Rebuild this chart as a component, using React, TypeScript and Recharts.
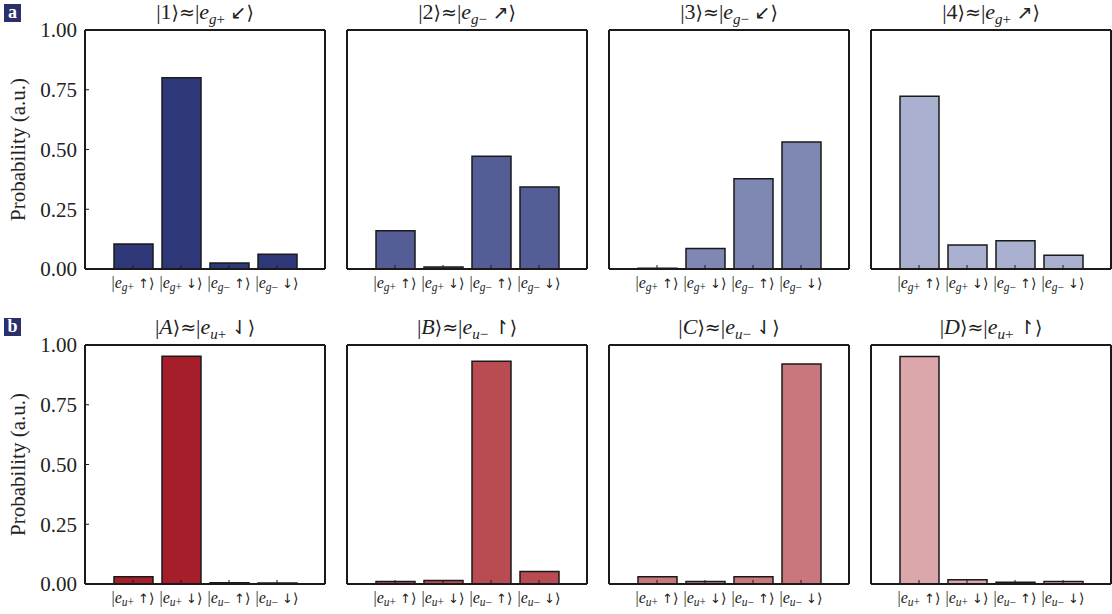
import { Bar, BarChart, XAxis, YAxis } from 'recharts'

const topSubs = ['g+', 'g+', 'g−', 'g−']
const bottomSubs = ['u+', 'u+', 'u−', 'u−']
const spins = ['↑', '↓', '↑', '↓']

const topKets = ['1', '2', '3', '4']
const topTitleSubs = ['g+', 'g−', 'g−', 'g+']
const topArrows = ['↙', '↗', '↙', '↗']
const bottomKets = ['A', 'B', 'C', 'D']
const bottomTitleSubs = ['u+', 'u−', 'u−', 'u+']
const bottomArrows = ['⇃', '↾', '⇃', '↾']

const state1 = [0.105, 0.8, 0.025, 0.062]
const state2 = [0.16, 0.008, 0.472, 0.343]
const state3 = [0.003, 0.086, 0.378, 0.531]
const state4 = [0.723, 0.1, 0.118, 0.058]
const stateA = [0.03, 0.953, 0.005, 0.004]
const stateB = [0.01, 0.015, 0.932, 0.052]
const stateC = [0.03, 0.01, 0.03, 0.92]
const stateD = [0.952, 0.018, 0.007, 0.01]

const topColors = ['#2e3879', '#555d96', '#7f87b3', '#aab0cf']
const bottomColors = ['#a51e2a', '#b94c53', '#c9767c', '#dba7aa']

const yTicks = [0, 0.25, 0.5, 0.75, 1]

const FONT = '"Liberation Serif", "DejaVu Serif", serif'
const SYM = '"DejaVu Sans", "DejaVu Serif", sans-serif'
const INK = '#1a1a1a'
const colLefts = [85, 347, 609, 871]
const rowTops = [30, 345]
const plotW = 240
const plotH = 239
const axisW = 85

function KetTick(props: any) {
  const { x, y, payload, subs } = props
  const i = payload.index
  const sub: string = subs[i]
  return (
    <text x={x} y={y} textAnchor="middle" fontFamily={FONT} fontSize={16} fill="#222">
      <tspan dy={15}>|</tspan>
      <tspan fontStyle="italic">e</tspan>
      <tspan dy={3} fontSize={11.5}>
        <tspan fontStyle="italic">{sub[0]}</tspan>
        {sub.slice(1)}
      </tspan>
      <tspan dy={-3}> </tspan>
      <tspan fontFamily={SYM} fontSize={13}>{spins[i]}</tspan>
      <tspan fontFamily={SYM} fontSize={14}>⟩</tspan>
    </text>
  )
}

function Panel({ values, color, col, row, subs }: { values: number[]; color: string; col: number; row: number; subs: string[] }) {
  const data = values.map((v, k) => ({ k, v }))
  return (
    <div style={{ position: 'absolute', left: colLefts[col] - axisW, top: rowTops[row] - 30 }}>
      <BarChart width={axisW + plotW + 8} height={30 + plotH + 40} data={data} margin={{ top: 29, right: 7, left: 0, bottom: 0 }}>
        <XAxis
          dataKey="k"
          padding={{ left: 24, right: 24 }}
          axisLine={{ stroke: INK, strokeWidth: 2 }}
          tickLine={{ stroke: INK, strokeWidth: 1 }}
          tickSize={-4}
          tickMargin={8}
          height={40}
          interval={0}
          tick={<KetTick subs={subs} />}
        />
        <XAxis
          xAxisId="t"
          dataKey="k"
          orientation="top"
          padding={{ left: 24, right: 24 }}
          axisLine={{ stroke: INK, strokeWidth: 2 }}
          tickLine={{ stroke: INK, strokeWidth: 1 }}
          tickSize={-4}
          height={1}
          interval={0}
          tick={false}
        />
        <YAxis
          domain={[0, 1]}
          ticks={yTicks}
          width={axisW}
          axisLine={{ stroke: INK, strokeWidth: 2 }}
          tickLine={{ stroke: INK, strokeWidth: 1 }}
          tickSize={-4}
          tickMargin={12}
          tickFormatter={(v: number) => v.toFixed(2)}
          tick={col === 0 ? { fontFamily: FONT, fontSize: 21, fill: '#222' } : false}
          label={
            col === 0
              ? { value: 'Probability (a.u.)', angle: -90, position: 'insideLeft', offset: 18, style: { textAnchor: 'middle', fontFamily: FONT, fontSize: 21, fill: '#222' } }
              : undefined
          }
        />
        <YAxis
          yAxisId="r"
          orientation="right"
          domain={[0, 1]}
          ticks={yTicks}
          width={1}
          axisLine={{ stroke: INK, strokeWidth: 2 }}
          tickLine={{ stroke: INK, strokeWidth: 1 }}
          tickSize={-4}
          tick={false}
        />
        <Bar dataKey="v" fill={color} stroke={INK} strokeWidth={1.5} barSize={39} isAnimationActive={false} />
        <Bar dataKey="v" xAxisId="t" yAxisId="r" fill="none" stroke="none" barSize={39} isAnimationActive={false} />
      </BarChart>
    </div>
  )
}

function Title({ ket, sub, arrow, col, row }: { ket: string; sub: string; arrow: string; col: number; row: number }) {
  const italic = /[A-Z]/.test(ket)
  return (
    <div
      style={{
        position: 'absolute',
        left: colLefts[col],
        width: plotW,
        top: rowTops[row] - 29,
        textAlign: 'center',
        fontFamily: FONT,
        fontSize: 22,
        color: '#222',
        lineHeight: '22px',
        whiteSpace: 'nowrap',
      }}
    >
      |{italic ? <i>{ket}</i> : ket}
      <span style={{ fontFamily: SYM, fontSize: 19 }}>⟩≈</span>|<i>e</i>
      <sub style={{ fontSize: 15, lineHeight: '10px' }}>
        <i>{sub[0]}</i>
        {sub.slice(1)}
      </sub>{' '}
      <span style={{ fontFamily: SYM, fontSize: 19 }}>{arrow}⟩</span>
    </div>
  )
}

function Tag({ letter, top }: { letter: string; top: number }) {
  return (
    <div
      style={{
        position: 'absolute',
        left: 4,
        top,
        width: 17,
        height: 18,
        background: '#2b2f6b',
        color: '#fff',
        fontFamily: FONT,
        fontWeight: 'bold',
        fontSize: 18,
        lineHeight: '17px',
        textAlign: 'center',
      }}
    >
      {letter}
    </div>
  )
}

export default function App() {
  const topStates = [state1, state2, state3, state4]
  const bottomStates = [stateA, stateB, stateC, stateD]
  return (
    <div style={{ position: 'absolute', left: 0, top: 0, width: 1112, height: 614, background: '#fff', overflow: 'hidden' }}>
      <Tag letter="a" top={4} />
      <Tag letter="b" top={318} />
      {topStates.map((vals, c) => (
        <Panel key={'t' + c} values={vals} color={topColors[c]} col={c} row={0} subs={topSubs} />
      ))}
      {bottomStates.map((vals, c) => (
        <Panel key={'b' + c} values={vals} color={bottomColors[c]} col={c} row={1} subs={bottomSubs} />
      ))}
      {topKets.map((k, c) => (
        <Title key={'tt' + c} ket={k} sub={topTitleSubs[c]} arrow={topArrows[c]} col={c} row={0} />
      ))}
      {bottomKets.map((k, c) => (
        <Title key={'bt' + c} ket={k} sub={bottomTitleSubs[c]} arrow={bottomArrows[c]} col={c} row={1} />
      ))}
    </div>
  )
}
